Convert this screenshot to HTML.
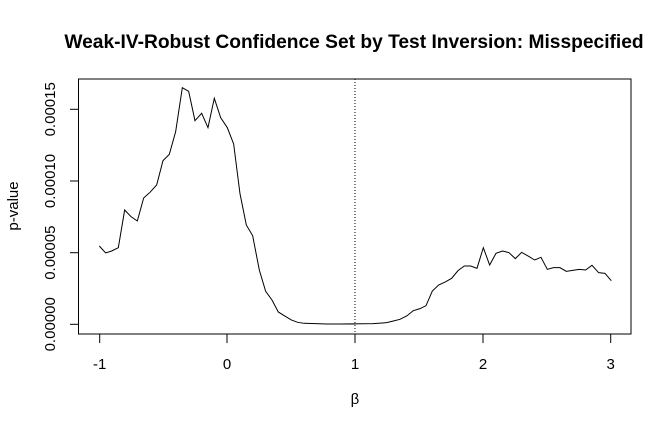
<!DOCTYPE html><html><head><style>body{margin:0;background:#fff}</style></head><body>
<svg width="672" height="432" xmlns="http://www.w3.org/2000/svg" font-family="Liberation Sans, sans-serif">
<rect width="672" height="432" fill="#fff"/>
<text x="354" y="48" text-anchor="middle" font-weight="bold" font-size="19.2">Weak-IV-Robust Confidence Set by Test Inversion: Misspecified</text>
<rect x="78.5" y="79" width="552.5" height="255" fill="none" stroke="#000" stroke-width="1"/>
<line x1="355" y1="79" x2="355" y2="334" stroke="#000" stroke-dasharray="1,2"/>
<g stroke="#000" fill="none">
<line x1="99.7" y1="334" x2="99.7" y2="343"/><line x1="227" y1="334" x2="227" y2="343"/><line x1="355" y1="334" x2="355" y2="343"/><line x1="483" y1="334" x2="483" y2="343"/><line x1="610.7" y1="334" x2="610.7" y2="343"/>
<line x1="70" y1="324.3" x2="78.5" y2="324.3"/><line x1="70" y1="252.7" x2="78.5" y2="252.7"/><line x1="70" y1="181" x2="78.5" y2="181"/><line x1="70" y1="109.3" x2="78.5" y2="109.3"/>
</g>
<g font-size="15" text-anchor="middle">
<text x="99.7" y="369">-1</text><text x="227" y="369">0</text><text x="355" y="369">1</text><text x="483" y="369">2</text><text x="610.7" y="369">3</text>
<text transform="translate(55,324.3) rotate(-90)">0.00000</text>
<text transform="translate(55,252.7) rotate(-90)">0.00005</text>
<text transform="translate(55,181) rotate(-90)">0.00010</text>
<text transform="translate(55,109.3) rotate(-90)">0.00015</text>
<text transform="translate(18,206) rotate(-90)">p-value</text>
<text x="355" y="404">β</text>
</g>
<g fill="none" stroke="#000" stroke-width="1">
<polyline vector-effect="non-scaling-stroke" transform="translate(60,70) scale(0.3333)" points="118,528 137,549 155,543 175,533 194,420 213,440 232,453 251,384 270,367 290,345 309,272 328,253 347,185 367,53 386,64 405,152 425,130 444,173 463,85 482,143 502,173 521,222 540,371 559,465 578,497 598,600 617,664 636,690 655,726 674,738 694,750 713,757 732,760 800,762 885,762"/>
<polyline vector-effect="non-scaling-stroke" transform="translate(340,200) scale(0.3333)" points="0,372 100,371 140,368 160,363 180,358 200,348 220,332 240,326 258,317 277,273 296,255 316,246 335,235 354,212 373,198 392,198 411,205 430,143 449,195 468,160 488,153 507,158 526,176 545,157 564,168 584,180 603,172 622,208 641,203 660,203 679,214 698,211 718,208 737,210 756,196 776,218 795,220 814,242"/>
</g>
</svg></body></html>
